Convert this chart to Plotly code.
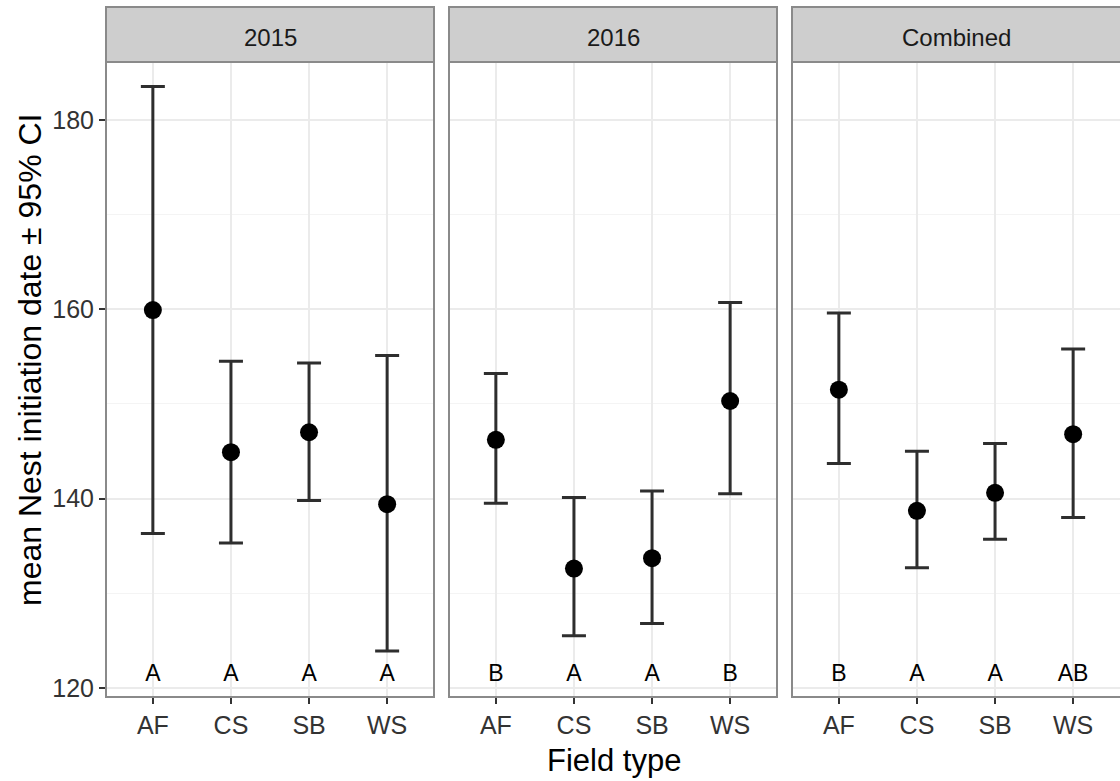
import plotly.graph_objects as go
from plotly.subplots import make_subplots

# ---------------- data ----------------
field_types = ["AF", "CS", "SB", "WS"]
panels = ["2015", "2016", "Combined"]

mean_2015 = [159.9, 144.9, 147.0, 139.4]
lower_2015 = [136.3, 135.3, 139.8, 123.9]
upper_2015 = [183.5, 154.5, 154.3, 155.1]
letters_2015 = ["A", "A", "A", "A"]

mean_2016 = [146.2, 132.6, 133.7, 150.3]
lower_2016 = [139.5, 125.5, 126.8, 140.5]
upper_2016 = [153.2, 140.1, 140.8, 160.7]
letters_2016 = ["B", "A", "A", "B"]

mean_comb = [151.5, 138.7, 140.6, 146.8]
lower_comb = [143.7, 132.7, 135.7, 138.0]
upper_comb = [159.6, 145.0, 145.8, 155.8]
letters_comb = ["B", "A", "A", "AB"]

letter_y = 121.3
y_ticks = [120, 140, 160, 180]

series = [
    (mean_2015, lower_2015, upper_2015, letters_2015),
    (mean_2016, lower_2016, upper_2016, letters_2016),
    (mean_comb, lower_comb, upper_comb, letters_comb),
]

# ---------------- layout constants ----------------
W, H = 1120, 781
ML, MR, MT, MB = 106, 0, 62, 84
plot_w = W - ML - MR
plot_h = H - MT - MB
gap_px = 15
strip_h = 55

FONT = "Liberation Sans, Arial, sans-serif"

fig = make_subplots(rows=1, cols=3, shared_yaxes=True,
                    horizontal_spacing=gap_px / plot_w)

for i, (m, lo, up, lett) in enumerate(series):
    col = i + 1
    plus = [u - v for u, v in zip(up, m)]
    minus = [v - l for v, l in zip(m, lo)]
    fig.add_trace(go.Scatter(
        x=field_types, y=m, mode="markers",
        marker=dict(color="black", size=18),
        error_y=dict(type="data", symmetric=False, array=plus, arrayminus=minus,
                     color="#2e2e2e", thickness=3, width=12),
        showlegend=False, hoverinfo="skip"), row=1, col=col)
    fig.add_trace(go.Scatter(
        x=field_types, y=[letter_y] * len(field_types), mode="text",
        text=lett, textposition="middle center",
        textfont=dict(family=FONT, size=23, color="black"),
        showlegend=False, hoverinfo="skip"), row=1, col=col)

# axes
for i in range(3):
    xa = "xaxis" if i == 0 else f"xaxis{i+1}"
    ya = "yaxis" if i == 0 else f"yaxis{i+1}"
    fig.layout[xa].update(
        type="category", range=[-0.6, 3.6],
        showgrid=True, gridcolor="#ebebeb", gridwidth=2,
        ticks="outside", ticklen=6, tickwidth=2, tickcolor="#333333",
        tickfont=dict(family=FONT, size=25, color="#333333"),
        showline=False, zeroline=False, fixedrange=True)
    fig.layout[ya].update(
        range=[119.04, 186.1], tickvals=y_ticks,
        showgrid=True, gridcolor="#ebebeb", gridwidth=2,
        minor=dict(tickvals=[130, 150, 170], showgrid=True,
                   gridcolor="#f4f4f4", gridwidth=1, ticks=""),
        ticks="outside" if i == 0 else "", ticklen=6, tickwidth=2,
        tickcolor="#333333",
        showticklabels=(i == 0),
        tickfont=dict(family=FONT, size=25, color="#333333"),
        showline=False, zeroline=False, fixedrange=True)

    xr = "x" if i == 0 else f"x{i+1}"
    yr = "y" if i == 0 else f"y{i+1}"
    x1 = 1.01 if i == 2 else 1
    # panel border
    fig.add_shape(type="rect", xref=f"{xr} domain", yref=f"{yr} domain",
                  x0=0, x1=x1, y0=0, y1=1,
                  line=dict(color="#8a8a8a", width=2), fillcolor="rgba(0,0,0,0)",
                  layer="above")
    # strip
    fig.add_shape(type="rect", xref=f"{xr} domain", yref=f"{yr} domain",
                  x0=0, x1=x1, y0=1, y1=1 + strip_h / plot_h,
                  line=dict(color="#8a8a8a", width=2), fillcolor="#cecece",
                  layer="above")
    fig.add_annotation(xref=f"{xr} domain", yref=f"{yr} domain",
                       x=0.5, y=1 + (strip_h / 2 - 3) / plot_h,
                       text=panels[i], showarrow=False,
                       xanchor="center", yanchor="middle",
                       font=dict(family=FONT, size=24, color="#1a1a1a"))

# axis titles
fig.add_annotation(xref="paper", yref="paper", x=(30 - ML) / plot_w,
                   y=(MT + plot_h - 360) / plot_h,
                   text="mean Nest initiation date ± 95% CI", textangle=-90,
                   showarrow=False, xanchor="center", yanchor="middle",
                   font=dict(family=FONT, size=32, color="black"))
fig.add_annotation(xref="paper", yref="paper", x=(613.5 - ML) / plot_w,
                   y=-(760 - (MT + plot_h)) / plot_h,
                   text="Field type", showarrow=False,
                   xanchor="center", yanchor="middle",
                   font=dict(family=FONT, size=31, color="black"))

fig.update_layout(
    width=W, height=H,
    margin=dict(l=ML, r=MR, t=MT, b=MB, pad=0),
    paper_bgcolor="white", plot_bgcolor="white",
    font=dict(family=FONT),
    showlegend=False,
)

fig.write_html("out.html", include_plotlyjs=True, config={"displayModeBar": False})
